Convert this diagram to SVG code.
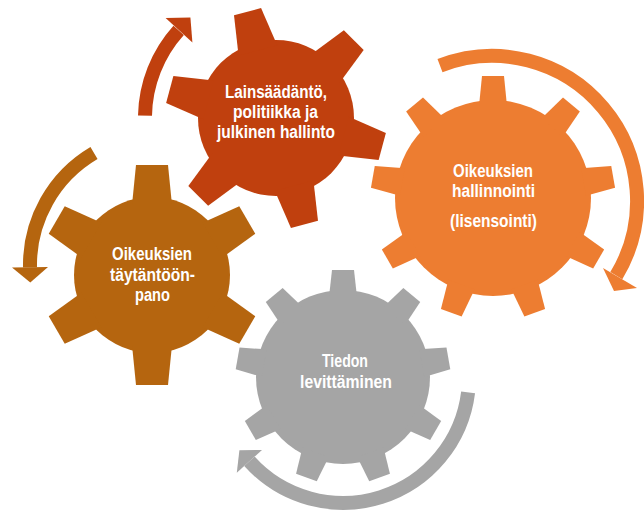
<svg xmlns="http://www.w3.org/2000/svg" width="644" height="512" viewBox="0 0 644 512">
<style>
.lbl{fill:#fff;font-family:"Liberation Sans",Arial,sans-serif;font-weight:bold;font-size:17.5px}
.band{fill:none;stroke-width:14;stroke-linecap:butt}
.red{fill:#C0400E}.orange{fill:#ED7D31}.brown{fill:#B5650F}.grey{fill:#A5A5A5}
</style>
<rect width="644" height="512" fill="#fff"/>
<g id="connectors">
<path class="band" stroke="#C0400E" d="M145 115.7 A131 131 0 0 1 178.65 30.35"/>
<polygon class="red" points="165.6,18 190.4,17.4 192.4,42.5"/>
<path class="band" stroke="#B5650F" d="M94 153 A130 130 0 0 0 30 267.3"/>
<polygon class="brown" points="12,267.6 30.3,282.5 48,267"/>
<path class="band" stroke="#ED7D31" d="M440 65.6 A145 145 0 0 1 616.3 275.7"/>
<polygon class="orange" points="603,268 637,288 614,291"/>
<path class="band" stroke="#A5A5A5" d="M468.1 392.4 A126 126 0 0 1 249.4 461.3"/>
<polygon class="grey" points="236.8,472.7 262,449.9 239.4,450.2"/>
</g>
<g id="gear-lainsaadanto" class="red">
<circle cx="276" cy="118" r="78"/>
<polygon points="256,48 262,8 290,8 296,48" transform="rotate(-15 276 118)"/>
<polygon points="256,48 262,8 290,8 296,48" transform="rotate(45 276 118)"/>
<polygon points="256,48 262,8 290,8 296,48" transform="rotate(105 276 118)"/>
<polygon points="256,48 262,8 290,8 296,48" transform="rotate(165 276 118)"/>
<polygon points="256,48 262,8 290,8 296,48" transform="rotate(225 276 118)"/>
<polygon points="256,48 262,8 290,8 296,48" transform="rotate(285 276 118)"/>
<text class="lbl" x="225" y="98" textLength="102" lengthAdjust="spacingAndGlyphs">Lainsäädäntö,</text>
<text class="lbl" x="233" y="118" textLength="85" lengthAdjust="spacingAndGlyphs">politiikka ja</text>
<text class="lbl" x="217" y="138" textLength="118" lengthAdjust="spacingAndGlyphs">julkinen hallinto</text>
</g>
<g id="gear-hallinnointi" class="orange">
<circle cx="493" cy="198" r="98"/>
<polygon points="479,106 482,76 504,76 507,106"/>
<polygon points="479,106 482,76 504,76 507,106" transform="rotate(40 493 198)"/>
<polygon points="479,106 482,76 504,76 507,106" transform="rotate(80 493 198)"/>
<polygon points="479,106 482,76 504,76 507,106" transform="rotate(120 493 198)"/>
<polygon points="479,106 482,76 504,76 507,106" transform="rotate(160 493 198)"/>
<polygon points="479,106 482,76 504,76 507,106" transform="rotate(200 493 198)"/>
<polygon points="479,106 482,76 504,76 507,106" transform="rotate(240 493 198)"/>
<polygon points="479,106 482,76 504,76 507,106" transform="rotate(280 493 198)"/>
<polygon points="479,106 482,76 504,76 507,106" transform="rotate(320 493 198)"/>
<text class="lbl" x="453" y="177" textLength="80" lengthAdjust="spacingAndGlyphs">Oikeuksien</text>
<text class="lbl" x="452" y="197" textLength="83" lengthAdjust="spacingAndGlyphs">hallinnointi</text>
<text class="lbl" x="450" y="227" textLength="87" lengthAdjust="spacingAndGlyphs">(lisensointi)</text>
</g>
<g id="gear-taytantoonpano" class="brown">
<circle cx="152" cy="275" r="78"/>
<polygon points="132,205 136,165 168,165 172,205"/>
<polygon points="132,205 136,165 168,165 172,205" transform="rotate(60 152 275)"/>
<polygon points="132,205 136,165 168,165 172,205" transform="rotate(120 152 275)"/>
<polygon points="132,205 136,165 168,165 172,205" transform="rotate(180 152 275)"/>
<polygon points="132,205 136,165 168,165 172,205" transform="rotate(240 152 275)"/>
<polygon points="132,205 136,165 168,165 172,205" transform="rotate(300 152 275)"/>
<text class="lbl" x="112" y="260" textLength="80" lengthAdjust="spacingAndGlyphs">Oikeuksien</text>
<text class="lbl" x="110" y="281" textLength="85" lengthAdjust="spacingAndGlyphs">täytäntöön-</text>
<text class="lbl" x="135" y="301" textLength="35" lengthAdjust="spacingAndGlyphs">pano</text>
</g>
<g id="gear-levittaminen" class="grey">
<circle cx="343" cy="377" r="87"/>
<polygon points="329,297 332,270 354,270 357,297"/>
<polygon points="329,297 332,270 354,270 357,297" transform="rotate(40 343 377)"/>
<polygon points="329,297 332,270 354,270 357,297" transform="rotate(80 343 377)"/>
<polygon points="329,297 332,270 354,270 357,297" transform="rotate(120 343 377)"/>
<polygon points="329,297 332,270 354,270 357,297" transform="rotate(160 343 377)"/>
<polygon points="329,297 332,270 354,270 357,297" transform="rotate(200 343 377)"/>
<polygon points="329,297 332,270 354,270 357,297" transform="rotate(240 343 377)"/>
<polygon points="329,297 332,270 354,270 357,297" transform="rotate(280 343 377)"/>
<polygon points="329,297 332,270 354,270 357,297" transform="rotate(320 343 377)"/>
<text class="lbl" x="322" y="367" textLength="46" lengthAdjust="spacingAndGlyphs">Tiedon</text>
<text class="lbl" x="300" y="388" textLength="92" lengthAdjust="spacingAndGlyphs">levittäminen</text>
</g>
</svg>
